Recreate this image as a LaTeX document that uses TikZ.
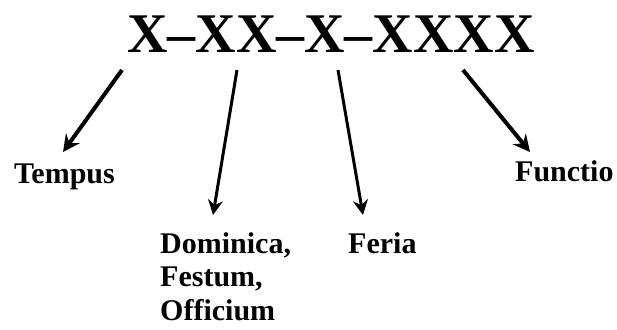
\documentclass[tikz,border=0pt]{standalone}
\usepackage{fontspec}
\setmainfont{Liberation Serif}
\usetikzlibrary{arrows.meta}
\begin{document}
\begin{tikzpicture}[x=1pt,y=1pt,
  lbl/.style={font=\fontsize{30}{33.5}\selectfont\bfseries, inner sep=0pt},
  thickarrow/.style={line width=4pt, -{Stealth[length=17pt,width=17pt,inset=6pt]}},
  thinarrow/.style={line width=3pt, -{Stealth[length=15pt,width=15pt,inset=5pt]}}]
\useasboundingbox (0,0) rectangle (617,329);
\node[font=\fontsize{56}{56}\selectfont\bfseries, inner sep=0pt, anchor=base] (title) at (331,276) {X--XX--X--XXXX};
\node[lbl, anchor=base west] (tempus) at (14,145) {Tempus};
\node[lbl, anchor=base west] (functio) at (515,147) {Functio};
\node[lbl, anchor=base west, align=left] (dom) at (160,9) {Dominica,\\Festum,\\Officium};
\node[lbl, anchor=base west] (feria) at (348,76) {Feria};
\coordinate (s1) at (122,259);
\coordinate (e1) at (63,177);
\coordinate (s2) at (237,259);
\coordinate (e2) at (213,114);
\coordinate (s3) at (338,259);
\coordinate (e3) at (363,114);
\coordinate (s4) at (463,259);
\coordinate (e4) at (530,177);
\draw[thickarrow] (s1) -- (e1);
\draw[thinarrow] (s2) -- (e2);
\draw[thinarrow] (s3) -- (e3);
\draw[thickarrow] (s4) -- (e4);
\end{tikzpicture}
\end{document}
